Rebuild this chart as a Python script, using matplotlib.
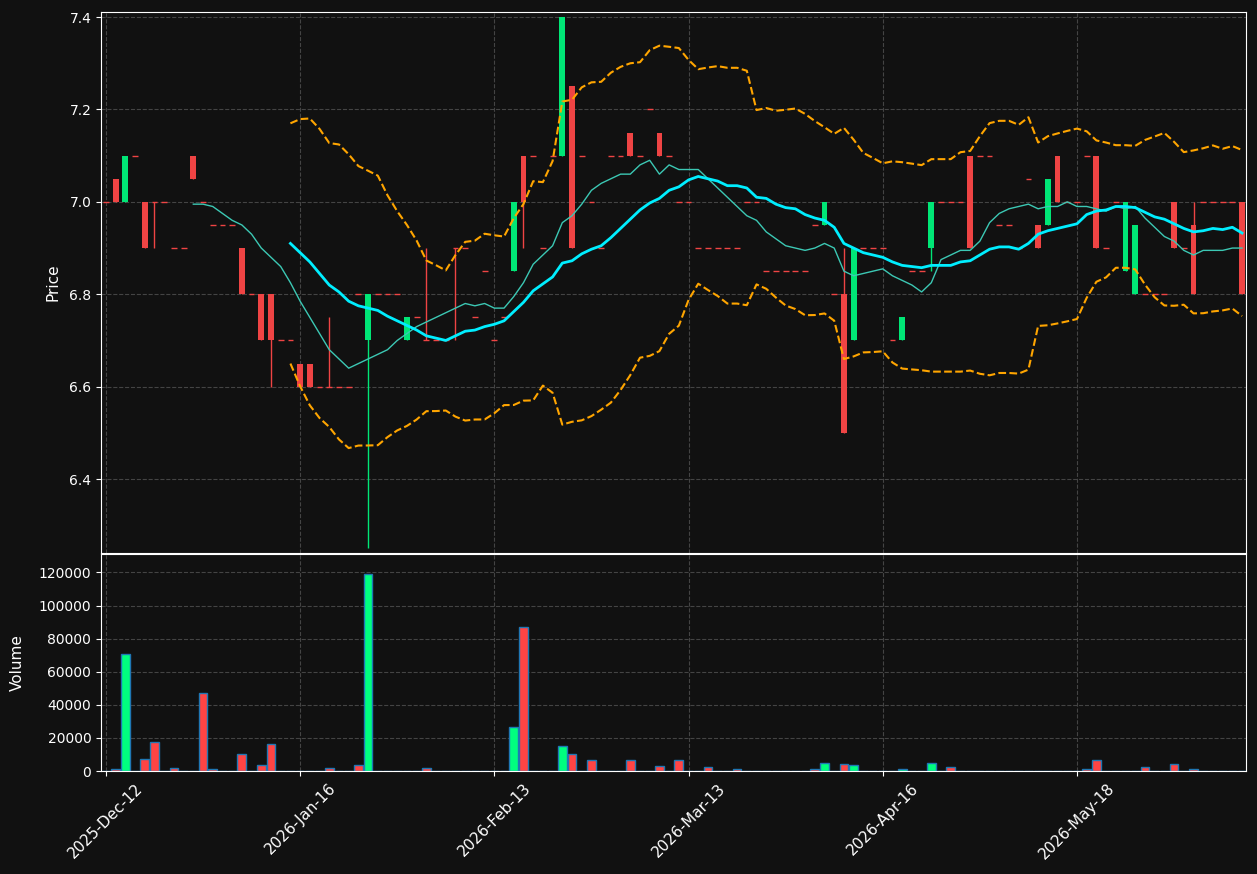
import numpy as np
import pandas as pd
import matplotlib
matplotlib.use("Agg")
import matplotlib.pyplot as plt

# daily OHLC (trading-day index 0..117)
opens = [7.0, 7.05, 7.0, 7.1, 7.0, 7.0, 7.0, 6.9, 6.9, 7.1,
         7.0, 6.95, 6.95, 6.95, 6.9, 6.8, 6.8, 6.8, 6.7, 6.7,
         6.65, 6.65, 6.6, 6.6, 6.6, 6.6, 6.8, 6.7, 6.8, 6.8,
         6.8, 6.7, 6.75, 6.7, 6.7, 6.7, 6.9, 6.9, 6.75, 6.85,
         6.7, 6.75, 6.85, 7.1, 7.1, 6.9, 7.1, 7.1, 7.25, 7.1,
         7.0, 6.9, 7.1, 7.1, 7.15, 7.1, 7.2, 7.15, 7.1, 7.0,
         7.0, 6.9, 6.9, 6.9, 6.9, 6.9, 7.0, 7.0, 6.85, 6.85,
         6.85, 6.85, 6.85, 6.95, 6.95, 6.8, 6.8, 6.7, 6.9, 6.9,
         6.9, 6.7, 6.7, 6.85, 6.85, 6.9, 7.0, 7.0, 7.0, 7.1,
         7.1, 7.1, 6.95, 6.95, 6.9, 7.05, 6.95, 6.95, 7.1, 7.0,
         7.0, 7.1, 7.1, 6.9, 7.0, 6.85, 6.8, 6.8, 6.8, 6.8,
         7.0, 6.9, 6.95, 7.0, 7.0, 7.0, 7.0, 7.0]
highs = [7.0, 7.05, 7.1, 7.1, 7.0, 7.0, 7.0, 6.9, 6.9, 7.1,
         7.0, 6.95, 6.95, 6.95, 6.9, 6.8, 6.8, 6.8, 6.7, 6.7,
         6.65, 6.65, 6.6, 6.75, 6.6, 6.6, 6.8, 6.8, 6.8, 6.8,
         6.8, 6.75, 6.75, 6.9, 6.7, 6.7, 6.9, 6.9, 6.75, 6.85,
         6.7, 6.75, 7.0, 7.1, 7.1, 6.9, 7.1, 7.4, 7.25, 7.1,
         7.0, 6.9, 7.1, 7.1, 7.15, 7.1, 7.2, 7.15, 7.1, 7.0,
         7.0, 6.9, 6.9, 6.9, 6.9, 6.9, 7.0, 7.0, 6.85, 6.85,
         6.85, 6.85, 6.85, 6.95, 7.0, 6.8, 6.9, 6.9, 6.9, 6.9,
         6.9, 6.7, 6.75, 6.85, 6.85, 7.0, 7.0, 7.0, 7.0, 7.1,
         7.1, 7.1, 6.95, 6.95, 6.9, 7.05, 6.95, 7.05, 7.1, 7.0,
         7.0, 7.1, 7.1, 6.9, 7.0, 7.0, 6.95, 6.8, 6.8, 6.8,
         7.0, 6.9, 7.0, 7.0, 7.0, 7.0, 7.0, 7.0]
lows = [7.0, 7.0, 7.0, 7.1, 6.9, 6.9, 7.0, 6.9, 6.9, 7.05,
        7.0, 6.95, 6.95, 6.95, 6.8, 6.8, 6.7, 6.6, 6.7, 6.7,
        6.6, 6.6, 6.6, 6.6, 6.6, 6.6, 6.8, 6.25, 6.8, 6.8,
        6.8, 6.7, 6.75, 6.7, 6.7, 6.7, 6.7, 6.9, 6.75, 6.85,
        6.7, 6.75, 6.85, 6.9, 7.1, 6.9, 7.1, 7.1, 6.9, 7.1,
        7.0, 6.9, 7.1, 7.1, 7.1, 7.1, 7.2, 7.1, 7.1, 7.0,
        7.0, 6.9, 6.9, 6.9, 6.9, 6.9, 7.0, 7.0, 6.85, 6.85,
        6.85, 6.85, 6.85, 6.95, 6.95, 6.8, 6.5, 6.7, 6.9, 6.9,
        6.9, 6.7, 6.7, 6.85, 6.85, 6.85, 7.0, 7.0, 7.0, 6.9,
        7.1, 7.1, 6.95, 6.95, 6.9, 7.05, 6.9, 6.95, 7.0, 7.0,
        7.0, 7.1, 6.9, 6.9, 7.0, 6.85, 6.8, 6.8, 6.8, 6.8,
        6.9, 6.9, 6.8, 7.0, 7.0, 7.0, 7.0, 6.8]
closes = [7.0, 7.0, 7.1, 7.1, 6.9, 7.0, 7.0, 6.9, 6.9, 7.05,
          7.0, 6.95, 6.95, 6.95, 6.8, 6.8, 6.7, 6.7, 6.7, 6.7,
          6.6, 6.6, 6.6, 6.6, 6.6, 6.6, 6.8, 6.8, 6.8, 6.8,
          6.8, 6.75, 6.75, 6.7, 6.7, 6.7, 6.9, 6.9, 6.75, 6.85,
          6.7, 6.75, 7.0, 7.0, 7.1, 6.9, 7.1, 7.4, 6.9, 7.1,
          7.0, 6.9, 7.1, 7.1, 7.1, 7.1, 7.2, 7.1, 7.1, 7.0,
          7.0, 6.9, 6.9, 6.9, 6.9, 6.9, 7.0, 7.0, 6.85, 6.85,
          6.85, 6.85, 6.85, 6.95, 7.0, 6.8, 6.5, 6.9, 6.9, 6.9,
          6.9, 6.7, 6.75, 6.85, 6.85, 7.0, 7.0, 7.0, 7.0, 6.9,
          7.1, 7.1, 6.95, 6.95, 6.9, 7.05, 6.9, 7.05, 7.0, 7.0,
          7.0, 7.1, 6.9, 6.9, 7.0, 7.0, 6.95, 6.8, 6.8, 6.8,
          6.9, 6.9, 6.8, 7.0, 7.0, 7.0, 7.0, 6.8]
volumes = [0, 1000, 71000, 0, 7100, 17400, 0, 1600, 0, 0,
           47100, 1000, 0, 0, 10100, 0, 3400, 16200, 0, 0,
           300, 300, 0, 1600, 0, 0, 3600, 119200, 0, 0,
           0, 0, 0, 1600, 0, 0, 0, 0, 0, 0,
           0, 0, 26500, 87100, 0, 300, 300, 15000, 10100, 300,
           6500, 0, 0, 0, 6500, 0, 0, 2800, 0, 6500,
           0, 0, 2200, 0, 0, 1000, 0, 0, 300, 0,
           0, 0, 0, 1000, 4700, 300, 4000, 3400, 0, 0,
           0, 0, 1000, 0, 0, 4700, 300, 2200, 300, 300,
           0, 0, 0, 0, 0, 0, 0, 300, 300, 0,
           0, 1000, 6500, 0, 300, 300, 300, 2200, 0, 300,
           4000, 0, 1000, 0, 0, 0, 0, 0]
tick_pos = [0, 20, 40, 60, 80, 100]
tick_labels = ['2025-Dec-12', '2026-Jan-16', '2026-Feb-13',
               '2026-Mar-13', '2026-Apr-16', '2026-May-18']

df = pd.DataFrame({'open': opens, 'high': highs, 'low': lows,
                   'close': closes, 'volume': volumes})
x = np.arange(len(df))
ma10 = df['close'].rolling(10).mean()
ma20 = df['close'].rolling(20).mean()
sd20 = df['close'].rolling(20).std(ddof=0)
upper = ma20 + 2 * sd20
lower = ma20 - 2 * sd20

bg = '#111111'
up_c, down_c = '#00e676', '#ef4444'
vol_up, vol_down = '#00ff7f', '#ff4444'

fig = plt.figure(figsize=(12.57, 8.74), dpi=100, facecolor=bg)
ax = fig.add_axes([0.0804, 0.3673, 0.9108, 0.619])
axv = fig.add_axes([0.0804, 0.1178, 0.9108, 0.2483], sharex=ax)

is_up = df['close'] > df['open']
colors = np.where(is_up, up_c, down_c)

# wicks
ax.vlines(x, df['low'], df['high'], color=colors, linewidth=1, zorder=2)
# bodies
body = (df['close'] - df['open']).abs()
bottom = df[['open', 'close']].min(axis=1)
ax.bar(x, body, bottom=bottom, width=0.6, color=colors, zorder=3)
# flat bodies
flat = body == 0
ax.hlines(df['close'][flat], x[flat] - 0.3, x[flat] + 0.3, color=down_c,
          linewidth=1, zorder=3)

ax.plot(x, ma10, color='#3cc8b4', linewidth=1, zorder=4)
ax.plot(x, ma20, color='#00eeff', linewidth=2, zorder=4)
ax.plot(x, upper, color='orange', linestyle='--', linewidth=1.5, zorder=4)
ax.plot(x, lower, color='orange', linestyle='--', linewidth=1.5, zorder=4)

vcolors = np.where(is_up, vol_up, vol_down)
axv.bar(x, df['volume'], width=0.9, color=vcolors, edgecolor='#1f77b4',
        linewidth=1)

for a in (ax, axv):
    a.set_facecolor(bg)
    for s in a.spines.values():
        s.set_color('white')
    a.tick_params(colors='white', labelsize=10)
    a.grid(True, linestyle='--', color='#444444', linewidth=0.8)
    a.set_axisbelow(True)

ax.set_xlim(-0.5, 117.4)
ax.set_ylim(6.24, 7.411)
ax.set_yticks([6.4, 6.6, 6.8, 7.0, 7.2, 7.4])
ax.set_yticklabels(['6.4', '6.6', '6.8', '7.0', '7.2', '7.4'])
ax.set_ylabel('Price', color='white', fontsize=11, labelpad=6)
ax.tick_params(axis='x', labelbottom=False, length=0)

axv.set_ylim(0, max(volumes) * 1.1)
axv.set_yticks(np.arange(0, 120001, 20000))
axv.set_yticklabels([str(v) for v in range(0, 120001, 20000)])
axv.set_ylabel('Volume', color='white', fontsize=11, labelpad=10)
axv.set_xticks(tick_pos)
axv.set_xticklabels(tick_labels, rotation=45, ha='center', fontsize=11)

fig.savefig('out.png', dpi=100, facecolor=bg)
